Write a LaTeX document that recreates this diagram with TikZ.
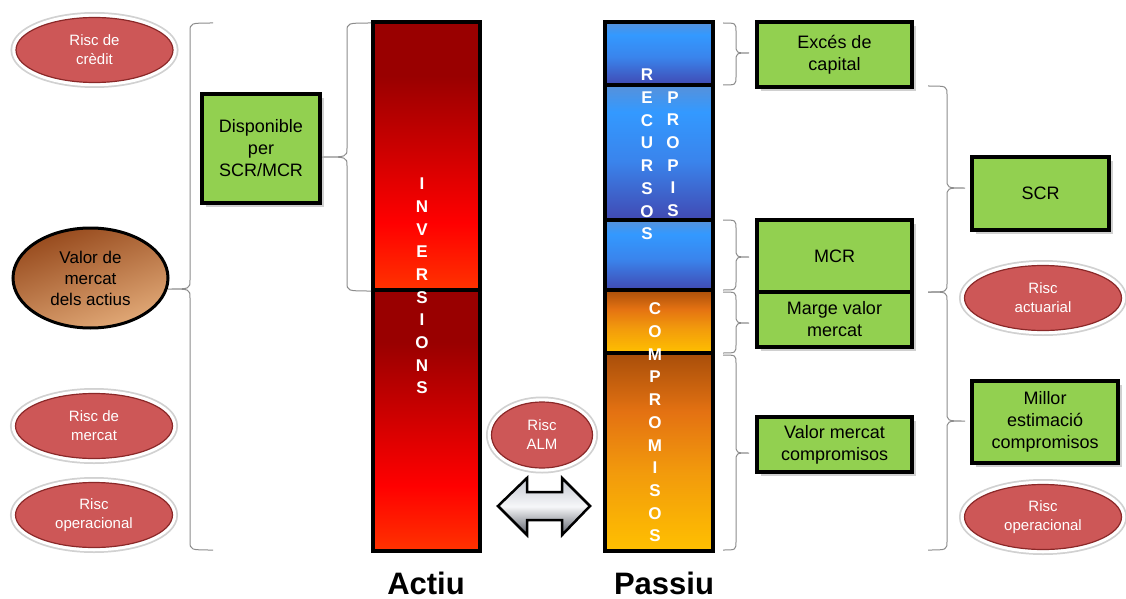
\documentclass[tikz,border=0pt]{standalone}
\usepackage{fontspec}
\setmainfont{Liberation Sans}
\usetikzlibrary{shapes.geometric,shadows}
\definecolor{boxgreen}{HTML}{92D050}
\definecolor{riskred}{HTML}{CD5757}
\definecolor{riskrim}{HTML}{8A2828}
\definecolor{bracegray}{HTML}{8C8C8C}
\definecolor{rTop}{HTML}{990000}
\definecolor{rMid}{HTML}{FF0000}
\definecolor{rBot}{HTML}{FF3300}
\definecolor{bTop}{HTML}{5791DA}
\definecolor{bMid}{HTML}{3399FF}
\definecolor{bLow}{HTML}{3A84EC}
\definecolor{bBot}{HTML}{4149B2}
\definecolor{oTop}{HTML}{A84E0A}
\definecolor{oMid}{HTML}{E47212}
\definecolor{oLow}{HTML}{F29A0C}
\definecolor{oBot}{HTML}{FFC000}
\definecolor{brownD}{HTML}{96491C}
\definecolor{brownL}{HTML}{E2AA78}
\definecolor{arrTop}{HTML}{C4C8D0}
\definecolor{arrMid}{HTML}{F6F7F9}
\definecolor{arrBot}{HTML}{5C606A}
\pgfdeclareverticalshading{redshade}{100bp}{color(0bp)=(rBot); color(25bp)=(rBot); color(37.5bp)=(rMid); color(65bp)=(rTop); color(75bp)=(rTop); color(100bp)=(rTop)}
\pgfdeclareverticalshading{blueshade}{100bp}{color(0bp)=(bBot); color(25bp)=(bBot); color(47bp)=(bLow); color(65bp)=(bMid); color(75bp)=(bTop); color(100bp)=(bTop)}
\pgfdeclareverticalshading{orangeshade}{100bp}{color(0bp)=(oBot); color(25bp)=(oBot); color(45bp)=(oLow); color(60bp)=(oMid); color(75bp)=(oTop); color(100bp)=(oTop)}
\newcommand\drawbrace[6]{\draw[bracestyle] (#1,#4) .. controls (#2,#4) .. (#2,#4+9) -- (#2,#5-9) .. controls (#2,#5) .. (#3,#5) .. controls (#2,#5) .. (#2,#5+9) -- (#2,#6-9) .. controls (#2,#6) .. (#1,#6);}
\begin{document}
\begin{tikzpicture}[x=1pt,y=-1pt,
  bracestyle/.style={draw=bracegray, line width=1pt},
  colseg/.style={draw=black, line width=4pt},
  greenbox/.style={rectangle, draw=black, line width=3.5pt, fill=boxgreen, align=center,
    font=\fontsize{18}{22}\selectfont, inner sep=0pt,
    drop shadow={shadow xshift=4pt, shadow yshift=-4pt, fill=black!30, opacity=.6}},
  riskell/.style={ellipse, fill=riskred, draw=riskrim, line width=1.2pt, text=white,
    align=center, font=\fontsize{15}{19}\selectfont, inner sep=0pt,
    minimum width=157pt, minimum height=65pt,
    preaction={draw=black!18, line width=11pt}, preaction={draw=white, line width=7.5pt}},
  letters/.style={text=white, align=center, inner sep=0pt,
    font=\bfseries\fontsize{17}{22.7}\selectfont},
  biglabel/.style={font=\bfseries\fontsize{31}{31}\selectfont, inner sep=0pt}]
\fill[white] (0,0) rectangle (1126,599);
\useasboundingbox (0,0) rectangle (1126,599);

% columns
\shadedraw[colseg, shading=redshade] (373,22) rectangle (480,290);
\shadedraw[colseg, shading=redshade] (373,290) rectangle (480,551);
\shadedraw[colseg, shading=blueshade] (605,22) rectangle (713,85);
\shadedraw[colseg, shading=blueshade] (605,85) rectangle (713,220);
\shadedraw[colseg, shading=blueshade] (605,220) rectangle (713,290);
\shadedraw[colseg, shading=orangeshade] (605,290) rectangle (713,353);
\shadedraw[colseg, shading=orangeshade] (605,353) rectangle (713,551);

\node[letters] (inv) at (422,286) {I\\N\\V\\E\\R\\S\\I\\O\\N\\S};
\node[letters] (rec) at (647,154.5) {R\\E\\C\\U\\R\\S\\O\\S};
\node[letters] (prop) at (673,154) {P\\R\\O\\P\\I\\S};
\node[letters] (comp) at (655,422.5) {C\\O\\M\\P\\R\\O\\M\\I\\S\\O\\S};

% braces
\drawbrace{213}{190}{168}{23}{289}{550}
\drawbrace{371}{347}{322}{23}{157}{291}
\drawbrace{723}{736}{749}{23}{53}{85}
\drawbrace{723}{736}{749}{220}{257}{290}
\drawbrace{723}{736}{749}{292}{323}{353}
\drawbrace{723}{736}{749}{355}{453}{550}
\drawbrace{928}{947}{965}{86}{188}{292}
\drawbrace{928}{947}{965}{292}{421}{550}

% green boxes
\node[greenbox, minimum width=118pt, minimum height=109pt] (disp) at (261,148.5) {Disponible\\per\\SCR/MCR};
\node[greenbox, minimum width=155pt, minimum height=65pt] (exces) at (834.5,54.5) {Excés de\\capital};
\node[greenbox, minimum width=155pt, minimum height=72pt] (mcr) at (834.5,256) {MCR};
\node[greenbox, minimum width=155pt, minimum height=55pt] (marge) at (834.5,319.5) {Marge valor\\mercat};
\node[greenbox, minimum width=155pt, minimum height=55pt] (valor) at (834.5,444.5) {Valor mercat\\compromisos};
\node[greenbox, minimum width=137pt, minimum height=73pt] (scr) at (1040.5,193.5) {SCR};
\node[greenbox, minimum width=146pt, minimum height=82pt] (millor) at (1045,422) {Millor\\estimació\\compromisos};

% risk ellipses
\node[riskell] (credit) at (94.5,50) {Risc de\\crèdit};
\node[riskell] (mercat) at (94,426) {Risc de\\mercat};
\node[riskell] (opl) at (94,515) {Risc\\operacional};
\node[riskell] (actuarial) at (1043,298) {Risc\\actuarial};
\node[riskell] (opr) at (1043,517) {Risc\\operacional};
\node[riskell, minimum width=101pt, minimum height=66pt] (alm) at (542,435) {Risc\\ALM};

% market value ellipse
\node[ellipse, draw=black, line width=3pt, top color=brownD, bottom color=brownL, shading angle=20,
  minimum width=155pt, minimum height=100pt, align=center, inner sep=0pt,
  font=\fontsize{17}{21}\selectfont] (vm) at (90.5,278) {Valor de\\mercat\\dels actius};

% double arrow
\shadedraw[top color=arrTop, bottom color=arrBot, middle color=arrMid, draw=black, line width=2.5pt, line join=miter]
  (498,506) -- (527,478) -- (527,492) -- (562,492) -- (562,478) -- (590,506) -- (562,535) -- (562,520) -- (527,520) -- (527,535) -- cycle;

\node[biglabel] (actiu) at (426,583) {Actiu};
\node[biglabel] (passiu) at (664,583) {Passiu};
\end{tikzpicture}
\end{document}
